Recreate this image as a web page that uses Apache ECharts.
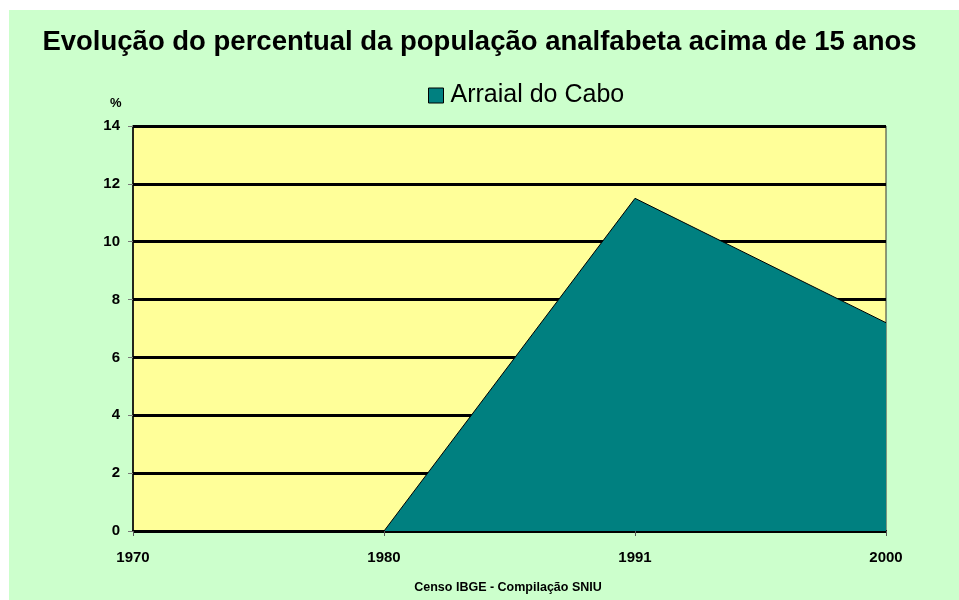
<!DOCTYPE html>
<html>
<head>
<meta charset="utf-8">
<style>
  html, body { margin: 0; padding: 0; background: #ffffff; }
  #container { width: 959px; height: 600px; }
</style>
</head>
<body>
<div id="container"></div>
<script src="https://cdn.jsdelivr.net/npm/echarts@6/dist/echarts.min.js"></script>
<script>
// dados
var anos = ['1970', '1980', '1991', '2000'];
var arraial = [null, 0, 11.5, 7.2];
var serieNome = 'Arraial do Cabo';

var chart = echarts.init(document.getElementById('container'));
var fonte = '"Liberation Sans", Arial, sans-serif';

var option = {
  backgroundColor: '#ffffff',
  animation: false,
  graphic: [
    {
      type: 'rect', z: -10, silent: true,
      shape: { x: 9, y: 10, width: 950, height: 590 },
      style: { fill: '#CCFFCC' }
    },
    {
      type: 'text', left: 110, top: 97,
      style: { text: '%', font: 'bold 13px ' + fonte, fill: '#000' }
    }
  ],
  title: [
    {
      text: 'Evolução do percentual da população analfabeta acima de 15 anos',
      left: 'center', top: 23,
      textStyle: { fontFamily: fonte, fontWeight: 'bold', fontSize: 27.5, color: '#000' }
    },
    {
      text: 'Censo IBGE - Compilação SNIU',
      left: 503, top: 576,
      textAlign: 'center',
      textStyle: { fontFamily: fonte, fontWeight: 'bold', fontSize: 12.5, color: '#000' }
    }
  ],
  legend: {
    left: 423, top: 78,
    icon: 'rect', itemWidth: 15, itemHeight: 15, itemGap: 6,
    itemStyle: { color: '#008080', borderColor: '#000', borderWidth: 1 },
    textStyle: { fontFamily: fonte, fontSize: 25, color: '#000', padding: [0, 0, 0, 2] },
    data: [serieNome]
  },
  grid: {
    left: 133, right: 73, top: 126, bottom: 69,
    show: true, backgroundColor: '#FFFF99', borderColor: '#333', borderWidth: 1
  },
  xAxis: {
    type: 'category', data: anos, boundaryGap: false,
    axisLine: { lineStyle: { color: '#000', width: 2 } },
    axisTick: { show: true, length: 5, lineStyle: { color: '#555' } },
    axisLabel: { fontFamily: fonte, fontWeight: 'bold', fontSize: 15, color: '#000', margin: 19 },
    splitLine: { show: false }
  },
  yAxis: {
    type: 'value', min: 0, max: 14, interval: 2,
    axisLine: { show: true, lineStyle: { color: '#000', width: 1.5 } },
    axisTick: { show: true, length: 5, lineStyle: { color: '#777' } },
    axisLabel: { fontFamily: fonte, fontWeight: 'bold', fontSize: 15, color: '#000', margin: 13 },
    splitLine: { show: true, lineStyle: { color: '#000', width: 3 } }
  },
  series: [
    {
      name: serieNome, type: 'line', data: arraial,
      showSymbol: false, connectNulls: false,
      lineStyle: { color: '#000', width: 1 },
      itemStyle: { color: '#008080' },
      areaStyle: { color: '#008080', opacity: 1 },
      z: 3
    }
  ]
};
chart.setOption(option);
</script>
</body>
</html>
